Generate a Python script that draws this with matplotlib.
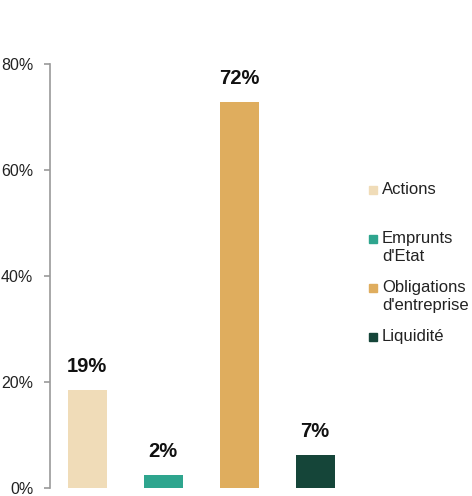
import matplotlib
matplotlib.use("Agg")
import matplotlib.pyplot as plt
from matplotlib.patches import Rectangle

categories = ["Actions", "Emprunts\nd'Etat", "Obligations\nd'entreprise", "Liquidité"]
values = [18.5, 2.4, 72.8, 6.2]
value_labels = ["19%", "2%", "72%", "7%"]
colors = ["#F0DCB8", "#2EA58E", "#DFAD5E", "#154539"]
yticks = [0, 20, 40, 60, 80]
ytick_labels = ["0%", "20%", "40%", "60%", "80%"]

plt.rcParams['font.family'] = ['Liberation Sans', 'DejaVu Sans']

W, H = 472, 496
fig = plt.figure(figsize=(W / 100, H / 100), dpi=100)
ax = fig.add_axes([50 / W, 1 - 488 / H, (353 - 50) / W, (488 - 64) / H])

x = list(range(len(values)))
bars = ax.bar(x, values, width=0.513, color=colors)
for b, lab in zip(bars, value_labels):
    ax.annotate(lab, (b.get_x() + b.get_width() / 2, b.get_height()),
                xytext=(0, 10), textcoords="offset points", ha="center", va="bottom",
                fontsize=14.5, fontweight="bold", color="#111111")

ax.set_xlim(-0.49, 3.5)
ax.set_ylim(0, 80)
ax.set_yticks(yticks)
ax.set_yticklabels(ytick_labels, fontsize=11.5, color="#222222")
ax.set_xticks([])
for s in ["top", "right", "bottom"]:
    ax.spines[s].set_visible(False)
ax.spines["left"].set_color("#999999")
ax.spines["left"].set_linewidth(1.2)
ax.tick_params(axis="y", length=4, width=1.2, color="#999999", pad=8)

# legend
for i, (cat, c) in enumerate(zip(categories, colors)):
    yc = 189.5 + i * 49.3
    fig.patches.append(Rectangle((369 / W, 1 - (yc + 4) / H), 8 / W, 8 / H,
                                 transform=fig.transFigure, color=c, figure=fig))
    fig.text(382 / W, 1 - (yc - 8) / H, cat, fontsize=12, color="#222222",
             ha="left", va="top", linespacing=1.28)

fig.savefig("out.png", dpi=100)
